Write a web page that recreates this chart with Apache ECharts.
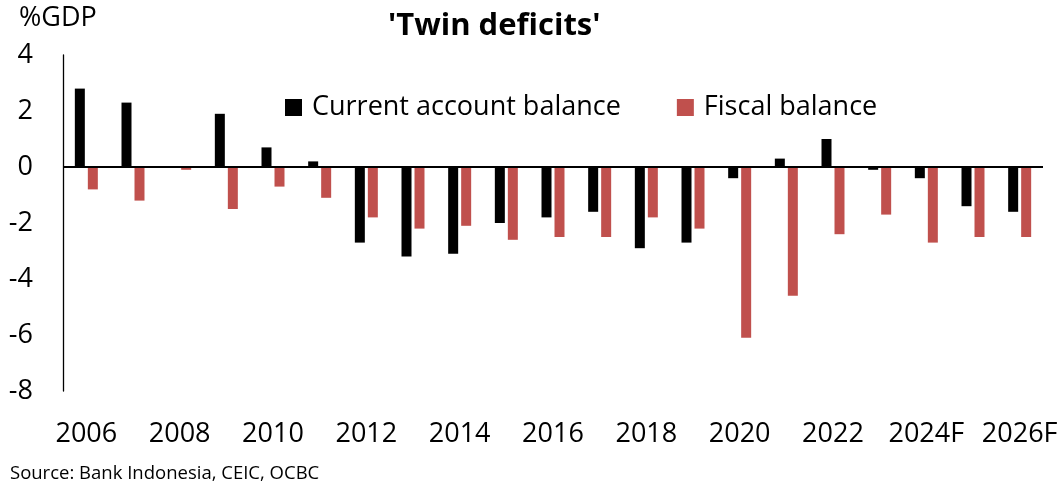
<!DOCTYPE html>
<html>
<head>
<meta charset="utf-8">
<script src="https://cdn.jsdelivr.net/npm/echarts@6/dist/echarts.min.js"></script>
<style>
  html, body { margin: 0; padding: 0; background: #fff; }
  #chart { width: 1063px; height: 489px; }
</style>
</head>
<body>
<div id="chart"></div>
<script>
// Indonesia: current account and fiscal balance, % of GDP
var years = ['2006','2007','2008','2009','2010','2011','2012','2013','2014','2015',
             '2016','2017','2018','2019','2020','2021','2022','2023','2024F','2025F','2026F'];
var currentAccount = [2.8, 2.3, 0.0, 1.9, 0.7, 0.2, -2.7, -3.2, -3.1, -2.0,
                      -1.8, -1.6, -2.9, -2.7, -0.4, 0.3, 1.0, -0.1, -0.4, -1.4, -1.6];
var fiscalBalance = [-0.8, -1.2, -0.1, -1.5, -0.7, -1.1, -1.8, -2.2, -2.1, -2.6,
                     -2.5, -2.5, -1.8, -2.2, -6.1, -4.6, -2.4, -1.7, -2.7, -2.5, -2.5];
var yTicks = { min: -8, max: 4, step: 2 };

var FONT = '"Open Sans", "Noto Sans", sans-serif';
var chart = echarts.init(document.getElementById('chart'), null, { renderer: 'canvas' });

chart.setOption({
  backgroundColor: '#ffffff',
  animation: false,
  textStyle: { fontFamily: FONT, color: '#000' },
  title: {
    text: "'Twin deficits'",
    left: 383, top: 6,
    textStyle: { fontFamily: FONT, fontSize: 31, fontWeight: 'bold', color: '#000' }
  },
  graphic: [
    { type: 'text', left: 19, top: 5,
      style: { text: '%GDP', font: '27px ' + FONT, fill: '#000' } },
    { type: 'text', left: 10, top: 464,
      style: { text: 'Source: Bank Indonesia, CEIC, OCBC', font: '18.5px ' + FONT, fill: '#000' } }
  ],
  legend: {
    left: 280, top: 89,
    itemWidth: 17, itemHeight: 17, itemGap: 56,
    icon: 'rect',
    textStyle: { fontFamily: FONT, fontSize: 27, color: '#000', padding: [0, 0, 0, 5] },
    data: ['Current account balance', 'Fiscal balance']
  },
  grid: { left: 63, right: 20, top: 55, bottom: 98, containLabel: false },
  xAxis: {
    type: 'category',
    data: years,
    axisLine: { show: false },
    axisTick: { show: false },
    axisLabel: { interval: 1, margin: 30, fontSize: 27, fontFamily: FONT, color: '#000' },
    splitLine: { show: false }
  },
  yAxis: {
    type: 'value',
    min: yTicks.min, max: yTicks.max, interval: yTicks.step,
    axisLine: { show: true, lineStyle: { color: '#000', width: 1.3 } },
    axisTick: { show: false },
    splitLine: { show: false },
    axisLabel: { margin: 30, fontSize: 27, fontFamily: FONT, color: '#000' }
  },
  series: [
    {
      name: 'Current account balance',
      type: 'bar',
      data: currentAccount,
      barWidth: 10,
      barGap: '30%',
      itemStyle: { color: '#000000' },
      markLine: {
        silent: true, symbol: 'none', label: { show: false },
        lineStyle: { color: '#000', width: 2, type: 'solid' },
        data: [{ yAxis: 0 }]
      }
    },
    {
      name: 'Fiscal balance',
      type: 'bar',
      data: fiscalBalance,
      barWidth: 10,
      barGap: '30%',
      itemStyle: { color: '#C0504D' }
    }
  ]
});
</script>
</body>
</html>
